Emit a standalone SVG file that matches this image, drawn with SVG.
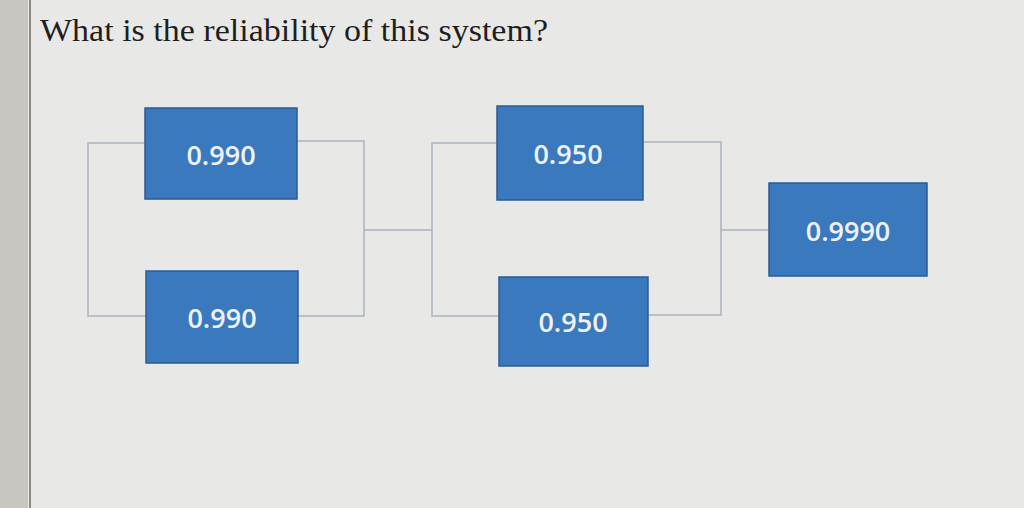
<svg xmlns="http://www.w3.org/2000/svg" width="1024" height="508" viewBox="0 0 1024 508">
<style>
.box{fill:#3b79be;stroke:#2b5b92;stroke-width:1.5}
.lbl{font-family:"Open Sans",sans-serif;font-size:27px;font-weight:600;fill:#eef2f7;text-anchor:middle;dominant-baseline:central}
.ln{fill:none;stroke:#a9b3bd;stroke-width:1.5}
</style>
<rect width="1024" height="508" fill="#e8e8e7"/>
<rect x="0" y="0" width="28" height="508" fill="#c9c6c2"/>
<line x1="30" y1="0" x2="30" y2="508" stroke="#8c8a88" stroke-width="2"/>
<text x="40" y="41" font-family="Liberation Serif,serif" font-size="31" fill="#1e1e1e" textLength="508" lengthAdjust="spacingAndGlyphs">What is the reliability of this system?</text>
<g id="connectors">
<path class="ln" d="M145 143 H88 V316 H146"/>
<path class="ln" d="M297 141 H364 V316 H298"/>
<path class="ln" d="M364 230 H432"/>
<path class="ln" d="M497 143 H432 V316 H499"/>
<path class="ln" d="M643 142 H721 V315 H648"/>
<path class="ln" d="M721 230 H769"/>
</g>
<g id="n1"><rect class="box" x="145" y="108" width="152" height="91"/><text class="lbl" x="221" y="154">0.990</text></g>
<g id="n2"><rect class="box" x="146" y="271" width="152" height="92"/><text class="lbl" x="222" y="317">0.990</text></g>
<g id="n3"><rect class="box" x="497" y="106" width="146" height="94"/><text class="lbl" x="568" y="153">0.950</text></g>
<g id="n4"><rect class="box" x="499" y="277" width="149" height="89"/><text class="lbl" x="573" y="321">0.950</text></g>
<g id="n5"><rect class="box" x="769" y="183" width="158" height="93"/><text class="lbl" x="848" y="230">0.9990</text></g>
</svg>
